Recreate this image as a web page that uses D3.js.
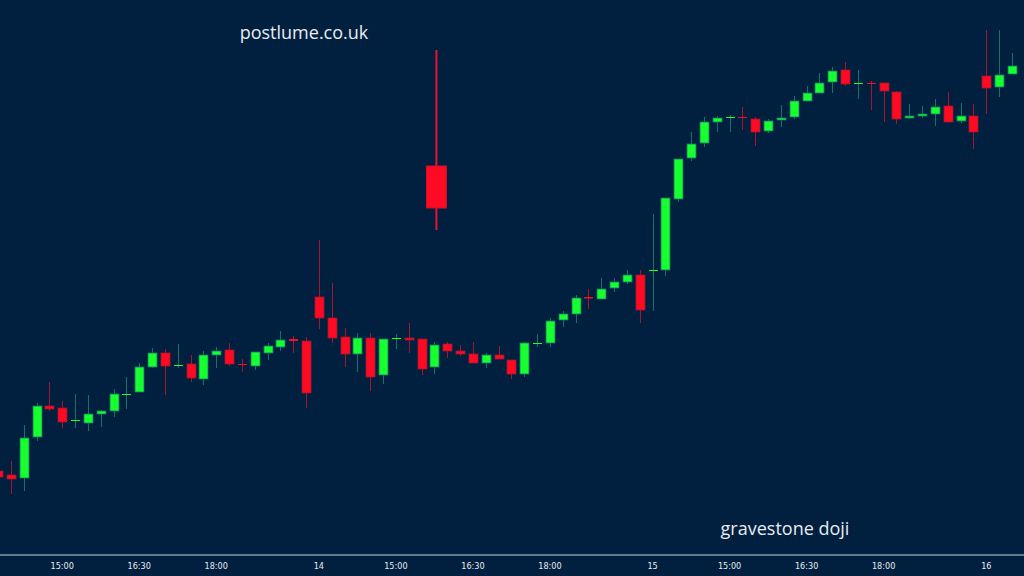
<!DOCTYPE html>
<html>
<head>
<meta charset="utf-8">
<script src="https://d3js.org/d3.v7.min.js"></script>
<style>
  html, body { margin: 0; padding: 0; background: #01203f; }
  svg text { font-family: "Open Sans", "DejaVu Sans", sans-serif; }
</style>
</head>
<body>
<script>
// 15-minute candles, prices (arbitrary price units)
var opens  = [529,525,522,563,594,592,580,577,586,589,605,608,633,647,634,636,621,645,650,636,634,647,653,661,659,703,682,663,646,662,625,661.5,662,661,633,656,649,646,637,645,640,626,656.5,657,680,686,703,701,712,718,725,729.5,730,801,842,857,878,882.5,883,881,869,880,883,899,907,918,930,916.5,917,917,908,882,884,886,894,879,884,924,913,926];
var closes = [523,521,562,594,591,578,580,586,589,606,606,633,647,634,635,622,645,649,636,635,648,654,660,659,607,682,662,646,662,623,661,662,660,631,655,649,646,637,645,641,626,657,657,679,686,702,701.5,711,718,725,690,730,802,841,856,878,882,883,882,868,879,882,899,907,917,929,916,917,916,909,881,884,886,893,878,884,868,912,925,934];
var highs  = [531,539,575,597,618,599,606,605,590,611,623,637,652,651,656,645,649,653,657,641,648,657,669,664,663,760,717,672,667,667,660,666,677,661,658,658,655,658,647,654,640,658,666,682,689,705,711,722,722,730,730,786,802,841,868,883,884,885,893,883,881,895,904,914,927,933,938,930,919,917,909,896,894,901,908,897,896,970,970,947];
var lows   = [521,506,509,559,589,572,572,569,573,583,591,608,632,605,632,618,615,632,634,628,630,640,649,647,592,671,657,633,628,609,616,651,647,625,626,642,644,644,632,641,621,623,653,653,673,677,691,701,708,716,677,689,724,798,839,853,868,868,870,854,867,873,881,899,916,907,914,901,890,878,876,881,882,874,879,877,851,886,903,926];

// highlighted candle drawn on top (gravestone doji callout)
var highlightIdx = [34];
var highlightOpen = [834], highlightClose = [792], highlightHigh = [950], highlightLow = [770];

// tick labels and the candle index each sits on
var tickIdx    = [5, 11, 17, 25, 31, 37, 43, 51, 57, 63, 69, 77];
var tickLabels = ["15:00", "16:30", "18:00", "14", "15:00", "16:30", "18:00", "15", "15:00", "16:30", "18:00", "16"];

var width = 1024, height = 576;
var upBody = "#17ff2e", downBody = "#ff0a23";
var upWick = "#0f7468", downWick = "#a3182e";

var svg = d3.select("body").append("svg")
  .attr("width", width).attr("height", height)
  .style("display", "block");

svg.append("rect").attr("width", width).attr("height", height).attr("fill", "#01203f");

var x = d3.scaleLinear().domain([0, 79]).range([-2, 1012]);
var y = d3.scaleLinear().domain([424, 1000]).range([576, 0]);
var bw = 9;

var candles = opens.map(function(o, i) {
  return { i: i, o: o, c: closes[i], h: highs[i], l: lows[i] };
});

var g = svg.append("g");
var cg = g.selectAll("g.candle").data(candles).enter().append("g");

cg.append("line")
  .attr("x1", function(d) { return Math.round(x(d.i)) + 0.5; })
  .attr("x2", function(d) { return Math.round(x(d.i)) + 0.5; })
  .attr("y1", function(d) { return y(d.h); })
  .attr("y2", function(d) { return y(d.l); })
  .attr("stroke", function(d) { return d.c >= d.o ? upWick : downWick; })
  .attr("stroke-width", 1);

cg.append("rect")
  .attr("x", function(d) { return Math.round(x(d.i)) - bw / 2 + 0.5; })
  .attr("width", bw)
  .attr("y", function(d) { return y(Math.max(d.o, d.c)); })
  .attr("height", function(d) { return Math.max(1, Math.abs(y(d.o) - y(d.c))); })
  .attr("fill", function(d) { return d.c >= d.o ? upBody : downBody; })
  .attr("stroke", function(d) { return d.c >= d.o ? upWick : downWick; })
  .attr("stroke-width", function(d) { return Math.abs(y(d.o) - y(d.c)) < 2 ? 0 : 0.8; });

// highlighted candle
highlightIdx.forEach(function(idx, k) {
  var cx = x(idx) + 2;
  g.append("line")
    .attr("x1", cx).attr("x2", cx)
    .attr("y1", y(highlightHigh[k])).attr("y2", y(highlightLow[k]))
    .attr("stroke", "#e8142e").attr("stroke-width", 2);
  g.append("rect")
    .attr("x", cx - 10).attr("width", 20)
    .attr("y", y(Math.max(highlightOpen[k], highlightClose[k])))
    .attr("height", Math.abs(y(highlightOpen[k]) - y(highlightClose[k])))
    .attr("fill", "#ff0a23").attr("stroke", "#d0112a").attr("stroke-width", 1);
});

// time axis
var axisY = 555;
svg.append("line").attr("x1", 0).attr("x2", width)
  .attr("y1", axisY).attr("y2", axisY)
  .attr("stroke", "#8a97a8").attr("stroke-width", 1.5);

svg.selectAll("text.tick").data(tickIdx).enter().append("text")
  .attr("class", "tick")
  .attr("x", function(d) { return x(d); })
  .attr("y", 569)
  .attr("text-anchor", "middle")
  .attr("font-size", 9)
  .style("font-family", "'Liberation Sans Narrow', 'DejaVu Sans Condensed', sans-serif")
  .attr("fill", "#e8ecf1")
  .text(function(d, i) { return tickLabels[i]; });

svg.append("text").attr("x", 304).attr("y", 39)
  .attr("text-anchor", "middle").attr("font-size", 18)
  .attr("fill", "#e8ecf1").text("postlume.co.uk");

svg.append("text").attr("x", 785).attr("y", 535)
  .attr("text-anchor", "middle").attr("font-size", 18)
  .attr("fill", "#e8ecf1").text("gravestone doji");
</script>
</body>
</html>
